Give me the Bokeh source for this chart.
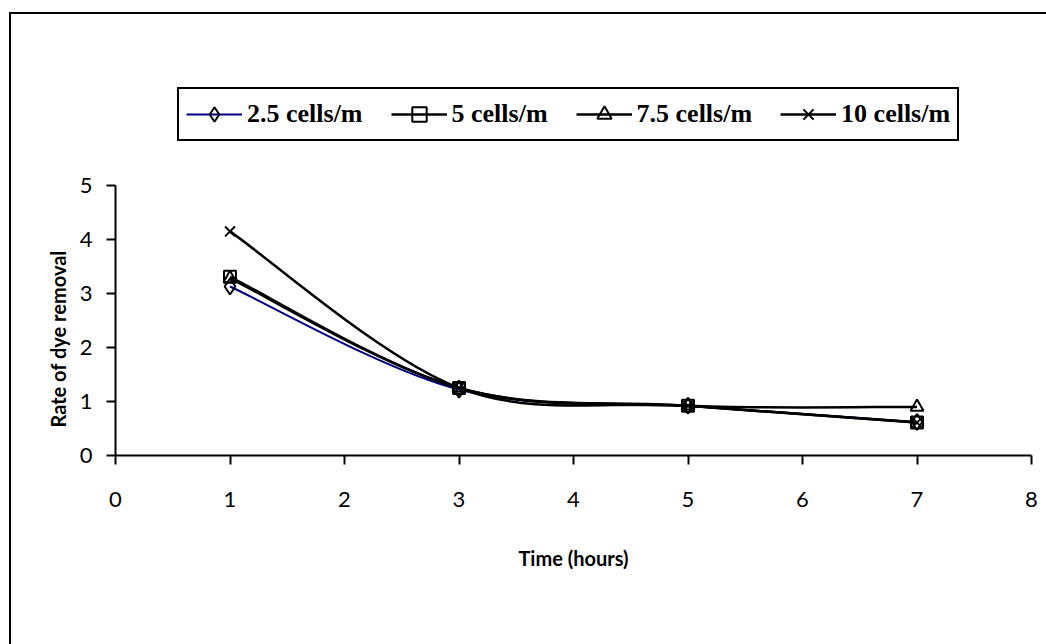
import numpy as np
from bokeh.plotting import figure
from bokeh.models import (Legend, LegendItem, Range1d, FixedTicker,
                          InlineStyleSheet, Title)
from bokeh.embed import file_html
from bokeh.resources import INLINE

# ---- data ----
time_hours = [1, 3, 5, 7]
rate_2_5 = [3.13, 1.22, 0.92, 0.62]
rate_5 = [3.31, 1.25, 0.92, 0.61]
rate_7_5 = [3.28, 1.25, 0.92, 0.90]
rate_10 = [4.15, 1.25, 0.92, 0.61]
series_labels = ["2.5 cells/m", "5 cells/m", "7.5 cells/m", "10 cells/m"]
x_ticks = [0, 1, 2, 3, 4, 5, 6, 7, 8]
y_ticks = [0, 1, 2, 3, 4, 5]
x_title = "Time (hours)"
y_title = "Rate of dye removal"

# ---- layout (pixels) ----
W, H = 1046, 644
AX_LEFT, AX_RIGHT = 115, 1031        # x = 0 .. 8
AX_BOTTOM, AX_TOP = 455, 185         # y = 0 .. 5
FRAME_TOP = 85                        # frame extended upward to hold the legend
Y_MIN, Y_MAX = y_ticks[0], y_ticks[-1]
y_end = Y_MAX + (AX_TOP - FRAME_TOP) * (Y_MAX - Y_MIN) / (AX_BOTTOM - AX_TOP)


def smooth_segments(xs, ys):
    """Bezier control points for a smoothed line through the data points."""
    x = np.asarray(xs, dtype=float)
    y = np.asarray(ys, dtype=float)
    n = len(x)
    xp = np.concatenate([[x[0]], x, [x[-1]]])
    yp = np.concatenate([[y[0]], y, [y[-1]]])
    i = np.arange(n - 1)
    return dict(
        x0=x[i], y0=y[i], x1=x[i + 1], y1=y[i + 1],
        cx0=x[i] + (x[i + 1] - xp[i]) / 6.0,
        cy0=y[i] + (y[i + 1] - yp[i]) / 6.0,
        cx1=x[i + 1] - (xp[i + 3] - x[i]) / 6.0,
        cy1=y[i + 1] - (yp[i + 3] - y[i]) / 6.0,
    )


p = figure(width=W, height=H, output_backend="svg", toolbar_location=None,
           x_range=Range1d(x_ticks[0], x_ticks[-1]), y_range=Range1d(Y_MIN, y_end),
           min_border_left=AX_LEFT, min_border_right=W - AX_RIGHT,
           min_border_top=FRAME_TOP, min_border_bottom=H - AX_BOTTOM)
p.background_fill_color = "white"
p.border_fill_color = "white"
p.outline_line_color = None
p.xgrid.visible = False
p.ygrid.visible = False

for ax, ticks in ((p.xaxis[0], x_ticks), (p.yaxis[0], y_ticks)):
    ax.ticker = FixedTicker(ticks=ticks)
    ax.bounds = (ticks[0], ticks[-1])
    ax.minor_tick_line_color = None
    ax.major_tick_in = 0
    ax.major_tick_out = 9
    ax.major_tick_line_width = 2
    ax.major_tick_line_color = "black"
    ax.axis_line_width = 2
    ax.axis_line_color = "black"
    ax.major_label_text_font = "Lato"
    ax.major_label_text_font_size = "22px"
    ax.major_label_text_color = "black"
    ax.axis_label_text_font = "Lato"
    ax.axis_label_text_font_size = "20px"
    ax.axis_label_text_font_style = "bold"
    ax.axis_label_text_color = "black"

p.xaxis.axis_label = x_title
p.xaxis.major_label_standoff = 27
p.xaxis.axis_label_standoff = 36
p.yaxis.major_label_standoff = 14

# y-axis title as a side title so it can sit where the reference has it
p.add_layout(Title(text=y_title, align="left", offset=28, standoff=14,
                   text_font="Lato", text_font_size="20px",
                   text_font_style="bold", text_color="black"), "left")

series = [
    (rate_2_5, "#000080", 2, dict(marker="diamond", size=16)),
    (rate_5, "black", 2.5, dict(marker="square", size=12)),
    (rate_7_5, "black", 2.5, dict(marker="triangle", size=13)),
    (rate_10, "black", 2.5, dict(marker="x", size=14)),
]

items = []
for (vals, color, lw, mk), label in zip(series, series_labels):
    seg = smooth_segments(time_hours, vals)
    br = p.bezier(line_color=color, line_width=lw, **seg)
    sr = p.scatter(time_hours, vals, line_color="black", line_width=2,
                   fill_alpha=0, **mk)
    items.append(LegendItem(label=label, renderers=[br, sr]))

legend = Legend(items=items, location=(62, 314), orientation="horizontal",
                spacing=28, padding=7, margin=0,
                glyph_width=56, glyph_height=36, label_height=36,
                label_standoff=5,
                label_text_font="Liberation Serif",
                label_text_font_style="bold",
                label_text_font_size="26px",
                label_text_color="black",
                border_line_color="black", border_line_width=2,
                border_line_alpha=1,
                background_fill_color="white", background_fill_alpha=1)
p.add_layout(legend)

# outer chart-area border (only its left and top edges show in the reference)
p.stylesheets = [InlineStyleSheet(css=(
    ":host::after { content: ''; position: absolute; left: 9px; top: 12px; "
    "right: 0; bottom: 0; border-left: 2px solid black; "
    "border-top: 2px solid black; pointer-events: none; }"
))]

open("out.html", "w").write(file_html(p, INLINE))
